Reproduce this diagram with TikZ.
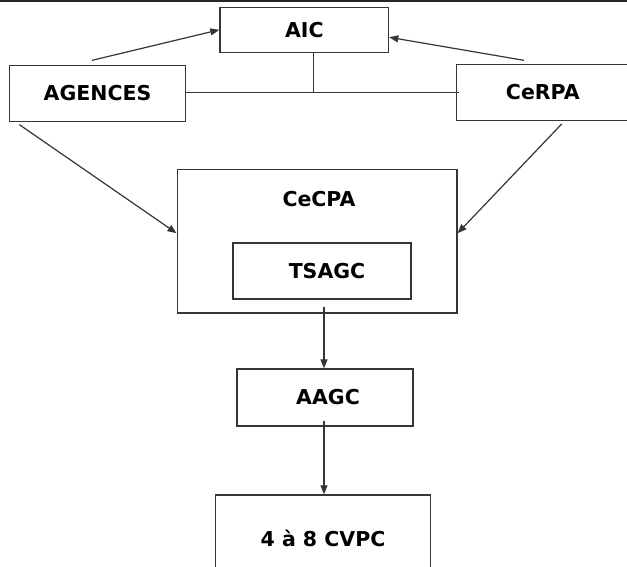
\documentclass[tikz,border=0pt]{standalone}
\usepackage{fontspec}
\setmainfont{DejaVu Sans}
\usetikzlibrary{arrows.meta,calc}
\definecolor{linegray}{HTML}{353535}
\begin{document}
\begin{tikzpicture}[x=1pt,y=-1pt,
  box/.style={draw=linegray, line width=1.3pt, inner sep=0pt, rectangle,
    font=\bfseries\fontsize{20.5}{24}\selectfont, text=black},
  lbl/.style={inner sep=0pt, font=\bfseries\fontsize{20.5}{24}\selectfont, text=black},
  conn/.style={draw=linegray, line width=1.2pt},
  arr/.style={conn, -{Triangle[length=9pt,width=7pt]}}]
\useasboundingbox (0,0) rectangle (627,567);
\fill[white] (0,0) rectangle (627,567);
\draw[line width=1.6pt, black!85] (0,0.8) -- (627,0.8);

\node[box, minimum width=168.7pt, minimum height=45pt] (aic) at (304.3,29.8) {AIC};
\node[box, minimum width=176.4pt, minimum height=56pt] (agences) at (97.5,93.3) {AGENCES};
\node[box, minimum width=172.3pt, minimum height=56pt] (cerpa) at (542.85,92.3) {CeRPA};
\node[box, minimum width=279.8pt, minimum height=143.7pt] (cecpa) at (317.1,241.2) {};
\node[lbl] (cecpalbl) at (319,199) {CeCPA};
\node[box, minimum width=178pt, minimum height=56pt] (tsagc) at (322,271) {\hspace{10pt}TSAGC};
\node[box, minimum width=176pt, minimum height=57pt] (aagc) at (325,397.5) {\hspace{6pt}AAGC};
\node[box, minimum width=215.4pt, minimum height=86pt] (cvpc) at (323,538) {4 à 8 CVPC};

% top links
\draw[arr] ($(agences.north)+(-5.5,-4.3)$) -- (aic.west);
\draw[arr] ($(cerpa.north)+(-18.85,-3.3)$) -- ($(aic.east)+(0,7.5)$);
\coordinate (junction) at ($(aic.south)+(9.4,0)$);
\draw[conn] (agences.east |- cerpa.west) -- ($(cerpa.west)+(3,0)$);
\draw[conn] (junction) -- (junction |- cerpa.west);

% to CeCPA
\draw[arr] ($(agences.south west)+(10.7,2.7)$) -- ($(cecpa.west)+(0,-8)$);
\draw[arr] ($(cerpa.south)+(18.85,3)$) -- ($(cecpa.east)+(0,-8)$);

% vertical chain
\draw[arr] ($(aagc.north |- cecpa.south)+(-1,-7)$) -- ($(aagc.north)+(-1,0)$);
\draw[arr] ($(aagc.south)+(-1,-6)$) -- ($(aagc.south |- cvpc.north)+(-1,0)$);
\end{tikzpicture}
\end{document}
